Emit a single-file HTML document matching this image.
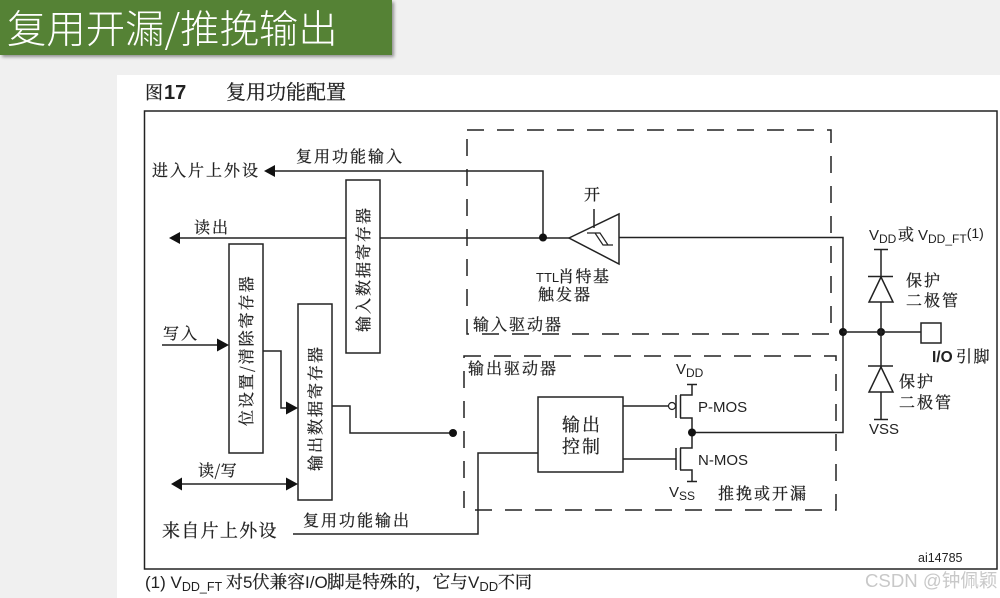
<!DOCTYPE html>
<html><head><meta charset="utf-8"><style>
html,body{margin:0;padding:0;background:#f0f0f0}
svg{display:block}
.s{font-family:"Noto Serif CJK SC","Liberation Serif",serif;font-size:16px;letter-spacing:2px;fill:#222;stroke:#222;stroke-width:.25px}
.z{font-family:"Noto Serif CJK SC","Liberation Serif",serif;fill:#222;stroke:#222;stroke-width:.25px}
.a{font-family:"Liberation Sans","Noto Sans CJK SC",sans-serif;fill:#222}
.l{fill:none;stroke:#222;stroke-width:1.5}
.t{fill:none;stroke:#222;stroke-width:1.2}
.d{fill:none;stroke:#222;stroke-width:1.5;stroke-dasharray:17 13}
.f{fill:#111;stroke:none}
.b{fill:#fff;stroke:#222;stroke-width:1.5}
</style></head><body>
<svg width="1000" height="598" viewBox="0 0 1000 598" xmlns="http://www.w3.org/2000/svg">
<defs><filter id="sh" x="-5%" y="-20%" width="110%" height="140%"><feDropShadow dx="2" dy="2" stdDeviation="1.5" flood-color="#000" flood-opacity=".4"/></filter></defs>
<rect width="1000" height="598" fill="#f0f0f0"/>
<rect x="117" y="75" width="883" height="523" fill="#fff"/>
<rect x="0" y="0" width="392" height="55" fill="#548235" filter="url(#sh)"/>
<text x="7" y="43" font-family="'Noto Sans CJK SC','Liberation Sans',sans-serif" font-size="39.400" font-weight="300" fill="#fff">复用开漏/推挽输出</text>

<text x="145" y="99" class="z" font-size="18">图</text>
<text x="164" y="99" class="a" font-size="20" font-weight="bold" fill="#222">17</text>
<text x="226" y="99" class="z" font-size="20">复用功能配置</text>

<rect x="144.500" y="111" width="852.500" height="458" class="l"/>
<rect x="467" y="130" width="364" height="204" class="d"/>
<rect x="464" y="356" width="372" height="154" class="d"/>

<!-- registers -->
<rect x="346" y="180" width="34" height="173" class="b"/>
<rect x="229" y="244" width="34" height="209" class="b"/>
<rect x="298" y="304" width="34" height="196" class="b"/>
<text transform="translate(369,332) rotate(-90)" class="s">输入数据寄存器</text>
<text transform="translate(252,426) rotate(-90)" class="s">位设置/清除寄存器</text>
<text transform="translate(321,471) rotate(-90)" class="s">输出数据寄存器</text>

<!-- input lines -->
<path class="l" d="M275 171H543V238"/>
<path class="f" d="M264 171l11-6v12z"/>
<path class="l" d="M180 238H346M380 238H569"/>
<path class="f" d="M169 238l11-6v12z"/>
<circle class="f" cx="543" cy="237.500" r="4"/>
<path class="b" d="M569 238L619 214V264Z"/>
<path class="l" d="M594 209V228"/>
<path class="t" d="M587 233H600L608 245H613M595 233L603 245H613"/>
<path class="l" d="M619 237.500H843V432.500H692"/>
<circle class="f" cx="843" cy="332" r="4"/>
<circle class="f" cx="881" cy="332" r="4"/>
<path class="l" d="M843 332H921"/>
<rect x="921" y="323" width="20" height="20" class="b"/>

<!-- diodes -->
<path class="l" d="M874 249.500H888M881 249.500V277M868 276.500H893M881 302V420M874 419.500H888M868 366H893"/>
<path class="b" d="M881 277L869 302H893Z"/>
<path class="b" d="M881 367L869 392H893Z"/>

<!-- write arrows -->
<path class="l" d="M162 345H218"/>
<path class="f" d="M229 345l-12-6.500v13z"/>
<path class="l" d="M263 351H281V408H287"/>
<path class="f" d="M298 408l-12-6.500v13z"/>
<path class="l" d="M182 484H287"/>
<path class="f" d="M171 484l11-6.500v13zM298 484l-12-6.500v13z"/>
<path class="l" d="M332 406H350V433H453"/>
<circle class="f" cx="453" cy="433" r="4"/>
<path class="l" d="M293 534H478V453H538"/>
<rect x="538" y="397" width="85" height="75" class="b"/>

<!-- MOS -->
<path class="l" d="M623 406H668"/>
<circle cx="672" cy="406" r="3.500" fill="#fff" stroke="#222" stroke-width="1.200"/>
<path class="l" d="M676 395V418M680.500 395V418M680 395H692V384.500M687 384.500H697M680 418H692V448H680M676 448V470M680.500 448V470M623 459H676M680 470H692V481.500M687 481.500H697"/>
<circle class="f" cx="692" cy="432.500" r="4"/>

<!-- labels -->
<text x="152" y="176" class="s">进入片上外设</text>
<text x="296" y="162" class="s">复用功能输入</text>
<text x="194" y="233" class="s">读出</text>
<text x="163" y="339" class="s">写入</text>
<text x="198" y="476" class="s" style="letter-spacing:.5px">读/写</text>
<text x="162" y="537" class="z" font-size="18" style="letter-spacing:1.300px">来自片上外设</text>
<text x="303" y="526" class="s">复用功能输出</text>
<text x="584" y="200" class="s">开</text>
<text x="536" y="282" class="a" font-size="13">TTL</text>
<text x="558" y="282" class="s" style="letter-spacing:1.500px">肖特基</text>
<text x="538" y="300" class="s">触发器</text>
<text x="473" y="330" class="s">输入驱动器</text>
<text x="468" y="374" class="s">输出驱动器</text>
<text x="718" y="499" class="s">推挽或开漏</text>
<text x="562" y="431" class="z" font-size="18" style="letter-spacing:2px">输出</text>
<text x="562" y="453" class="z" font-size="18" style="letter-spacing:2px">控制</text>
<text x="906" y="286" class="s">保护</text>
<text x="906" y="306" class="s">二极管</text>
<text x="899" y="387" class="s">保护</text>
<text x="899" y="408" class="s">二极管</text>
<text x="869" y="240" class="a" font-size="15">V<tspan font-size="12" dy="3">DD</tspan></text>
<text x="898" y="240" class="z" font-size="16">或</text>
<text x="918" y="240" class="a" font-size="15">V<tspan font-size="12" dy="3">DD_FT</tspan><tspan font-size="14" dy="-5">(1)</tspan></text>
<text x="869" y="434" class="a" font-size="15">VSS</text>
<text x="932" y="362" class="a" font-size="15.500" font-weight="bold">I/O</text>
<text x="956" y="362" class="z" font-size="16" style="letter-spacing:1.500px">引脚</text>
<text x="676" y="374" class="a" font-size="15">V<tspan font-size="12" dy="3">DD</tspan></text>
<text x="698" y="412" class="a" font-size="15">P-MOS</text>
<text x="698" y="465" class="a" font-size="15">N-MOS</text>
<text x="669" y="497" class="a" font-size="15">V<tspan font-size="12" dy="3">SS</tspan></text>
<text x="918" y="562" class="a" font-size="12.500">ai14785</text>

<!-- footer -->
<text x="145" y="588" class="a" font-size="17">(1) V<tspan font-size="12.500" dy="3">DD_FT</tspan></text>
<text x="226" y="588" class="z" font-size="17">对</text>
<text x="243" y="588" class="a" font-size="17">5</text>
<text x="252" y="588" class="z" font-size="17.600">伏兼容</text>
<text x="305" y="588" class="a" font-size="17">I/O</text>
<text x="327" y="588" class="z" font-size="17.600">脚是特殊的，它与</text>
<text x="468" y="588" class="a" font-size="17">V<tspan font-size="13" dy="3">DD</tspan></text>
<text x="498" y="588" class="z" font-size="17">不同</text>

<text x="865" y="587" font-family="'Liberation Sans','Noto Sans CJK SC',sans-serif" font-size="18.600" fill="#c8c8c8">CSDN @钟佩颖</text>
</svg>
</body></html>
